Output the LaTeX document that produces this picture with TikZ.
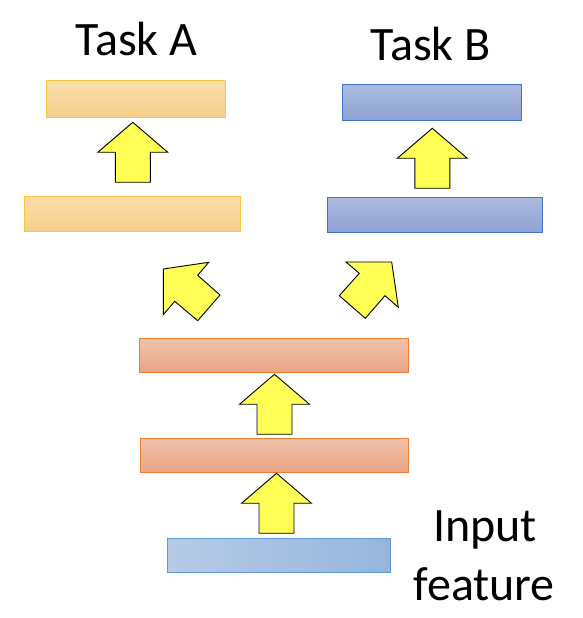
\documentclass[tikz,border=0pt]{standalone}
\usepackage{fontspec}
\setmainfont{Carlito}
\begin{document}
\begin{tikzpicture}[x=1pt,y=1pt,
  layer/.style={draw, line width=1pt, inner sep=0pt, outer sep=0pt, shading angle=0},
  taskA/.style={layer, draw=cTAline, top color=cTAtop, bottom color=cTAbot},
  taskB/.style={layer, draw=cTBline, top color=cTBtop, bottom color=cTBbot},
  shared/.style={layer, draw=cSHline, top color=cSHtop, bottom color=cSHbot},
  inputbox/.style={layer, draw=cINline, left color=cINleft, right color=cINright},
  flow/.style={draw=black, line width=0.9pt, fill=cArrow, line join=miter},
  label/.style={font=\fontsize{48}{58}\selectfont, inner sep=0pt, anchor=base}
]
\definecolor{cTAtop}{HTML}{F9DFAB}
\definecolor{cTAbot}{HTML}{F5CF8B}
\definecolor{cTAline}{HTML}{FBC33C}
\definecolor{cTBtop}{HTML}{ACBADC}
\definecolor{cTBbot}{HTML}{8FA2D3}
\definecolor{cTBline}{HTML}{4472C4}
\definecolor{cSHtop}{HTML}{F0C3AC}
\definecolor{cSHbot}{HTML}{EAA384}
\definecolor{cSHline}{HTML}{ED7D31}
\definecolor{cINleft}{HTML}{B7CBE6}
\definecolor{cINright}{HTML}{96B5DC}
\definecolor{cINline}{HTML}{5B9BD5}
\definecolor{cArrow}{HTML}{FFFF55}

\useasboundingbox (0,0) rectangle (582,618);

% layers
\node[taskA, minimum width=179.4pt, minimum height=37pt] (a2) at (136,519.2) {};
\node[taskA, minimum width=216.4pt, minimum height=35pt] (a1) at (132.5,404.2) {};
\node[taskB, minimum width=179.4pt, minimum height=36pt] (b2) at (432,515.7) {};
\node[taskB, minimum width=215pt, minimum height=35pt] (b1) at (434.8,403.2) {};
\node[shared, minimum width=269.4pt, minimum height=33.6pt] (s2) at (274,262.5) {};
\node[shared, minimum width=268.4pt, minimum height=34pt] (s1) at (274.5,162.7) {};
\node[inputbox, minimum width=223.4pt, minimum height=34pt] (in) at (279,62.7) {};

% labels
\node[label] (ta) at (136.5,562) {Task A};
\node[label] (tb) at (430.5,557) {Task B};
\node[label] (inp1) at (485.2,76.3) {Input};
\node[label] (inp2) at (484.2,17.3) {feature};

% vertical block arrows
\tikzset{uparr/.pic={
  \draw[flow] (-17.5,0) -- (17.5,0) -- (17.5,30) -- (35,30) -- (0,60)
    -- (-35,30) -- (-17.5,30) -- cycle;}}
\pic at (132.8,435.7) {uparr};
\pic at (432.3,429.7) {uparr};
\pic at (274.5,183.7) {uparr};
\pic at (276.5,84.7) {uparr};

% diagonal block arrows towards the two task branches
\draw[flow] (163.3,349) -- (208.7,355.7) -- (197.7,342.7) -- (220,323)
  -- (197.7,297.3) -- (174.7,316.7) -- (163.3,303.3) -- cycle;
\draw[flow] (346,356) -- (391.7,356) -- (398.3,310.7) -- (385,322.3)
  -- (365.3,299.7) -- (339.3,322.3) -- (359.3,344.7) -- cycle;
\end{tikzpicture}
\end{document}
